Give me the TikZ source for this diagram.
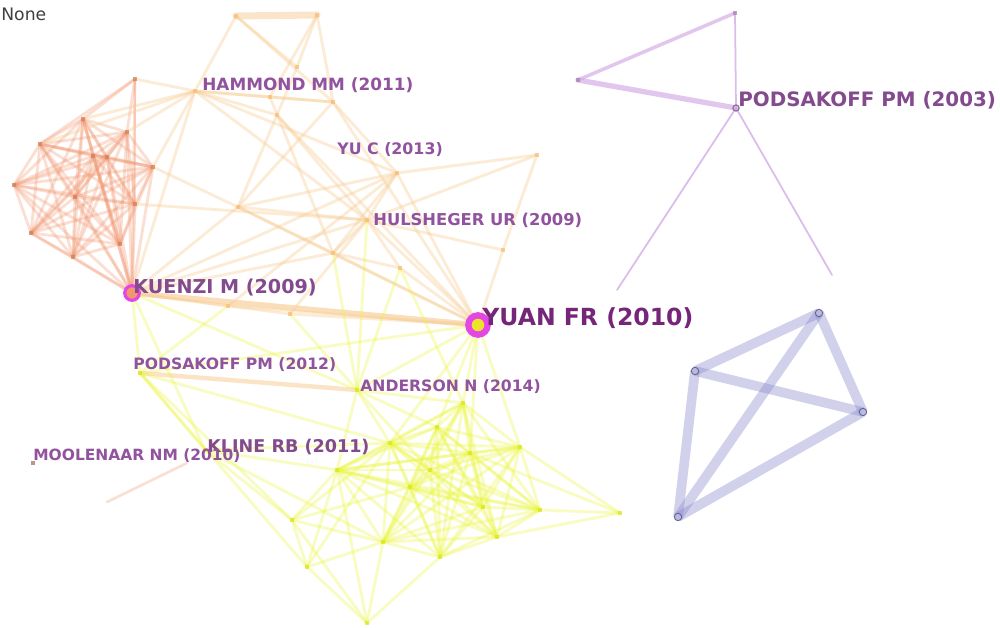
\documentclass[tikz,border=0pt]{standalone}
\usepackage{fontspec}
\setmainfont{DejaVu Sans}
\usetikzlibrary{positioning}
\definecolor{labelpurple}{RGB}{145,82,158}
\definecolor{deeppurple}{RGB}{118,38,120}
\definecolor{peach}{RGB}{242,150,110}
\definecolor{sand}{RGB}{248,205,150}
\definecolor{lemon}{RGB}{234,246,50}
\definecolor{lilac}{RGB}{206,160,226}
\definecolor{slate}{RGB}{140,140,205}
\definecolor{ringpink}{RGB}{228,70,228}

\begin{document}
\begin{tikzpicture}[x=0.02cm, y=-0.02cm,
    lbl/.style={text=labelpurple, anchor=west, inner sep=0pt, font=\bfseries\fontsize{#1}{#1}\selectfont},
    lbl/.default=9,
    web/.style={draw=#1, line width=1.6pt, opacity=0.3, line cap=round},
    dot/.style={rectangle, fill=#1, inner sep=0pt, minimum size=2.2pt, opacity=0.7},
    bluedot/.style={circle, draw=slate!70!black, fill=slate!60, line width=0.5pt, inner sep=0pt, minimum size=4.2pt}
  ]
  \fill[white] (0,0) rectangle (1000,628);
  \useasboundingbox (0,0) rectangle (1000,628);

  % node positions
  \foreach \n/\x/\y in {o1/135/79, o2/83/119, o3/40/144, o4/127/132, o5/93/156, o6/107/157,
      o7/153/167, o8/14/185, o9/75/197, o10/135/204, o11/31/233, o12/120/244, o13/73/257, kuenzi/132/293}
    \coordinate (\n) at (\x,\y);
  \foreach \n/\x/\y in {t1/236/16, t2/317/15, hammond/195/91, t3/297/67, t4/270/97, t5/277/115,
      t6/333/102, t7/397/173, t8/238/207, hulsheger/367/220, t9/537/155, t10/503/250, t11/333/253,
      t12/400/268, a1/228/306, a2/290/314, yuan/478/325}
    \coordinate (\n) at (\x,\y);
  \foreach \n/\x/\y in {pod12/140/373, anderson/357/390, kline/205/450, y1/463/403, y2/437/427,
      y3/390/443, y4/337/470, y5/520/447, y6/470/453, y7/430/470, y8/410/487, y9/540/510,
      y10/620/513, y11/292/520, y12/383/542, y13/440/557, y14/497/537, y15/307/567, y16/367/623, y17/483/507}
    \coordinate (\n) at (\x,\y);
  \foreach \n/\x/\y in {p1/578/80, p2/735/13, pod03/736/108, p3/617/290, p4/832/275,
      b1/819/313, b2/695/371, b3/863/412, b4/678/517, mool/33/463, m1/107/502, m2/187/463}
    \coordinate (\n) at (\x,\y);

  % orange cluster
  \foreach \a [count=\i] in {o2,o3,o4,o5,o6,o7,o8,o9,o10,o11,o12,o13,kuenzi}
    \foreach \b [count=\j] in {o2,o3,o4,o5,o6,o7,o8,o9,o10,o11,o12,o13,kuenzi}
      {\ifnum\j>\i \draw[web=peach] (\a) -- (\b); \fi}
  \foreach \b in {o2,o3,o4,o10,kuenzi}
    \draw[web=peach] (o1) -- (\b);

  % sand cluster
  \foreach \a/\b in {t1/t3, t2/t3, t1/t6, t2/t4, t1/hammond, t2/t6, t3/t5, t4/t6, hammond/t4,
      hammond/t6, hammond/t5, hammond/o1, hammond/o2, hammond/o4, hammond/o3, hammond/o7,
      hammond/kuenzi, hammond/t7, hammond/hulsheger, t5/t8, t5/hulsheger, t6/t8, t6/t7, t6/yuan,
      t5/yuan, t4/t11, t7/t8, t7/hulsheger, t7/yuan, t7/t11, t7/t9, t8/hulsheger, t8/t11, t8/yuan,
      t8/kuenzi, hulsheger/yuan, hulsheger/kuenzi, hulsheger/t11, hulsheger/t9, hulsheger/t12,
      t9/t10, t10/yuan, t10/hulsheger, t11/yuan, t11/kuenzi, t12/yuan, t12/t11, o7/t8,
      o10/hulsheger, a1/yuan, a1/t7, a2/hulsheger, a2/kuenzi, a1/kuenzi, a2/yuan, kuenzi/t7}
    \draw[web=sand, opacity=0.4] (\a) -- (\b);
  \draw[web=sand, line width=4pt, opacity=0.5] (t1) -- (t2);
  \draw[web=sand, line width=3.2pt, opacity=0.65] (kuenzi) -- (yuan);
  \draw[web=sand, line width=2.5pt, opacity=0.55] (pod12) -- (anderson);

  % yellow cluster
  \foreach \a [count=\i] in {y1,y2,y3,y4,y5,y6,y7,y8,y9,y12,y13,y14,y17}
    \foreach \b [count=\j] in {y1,y2,y3,y4,y5,y6,y7,y8,y9,y12,y13,y14,y17}
      {\ifnum\j>\i \draw[web=lemon] (\a) -- (\b); \fi}
  \foreach \a/\b in {yuan/anderson, yuan/y1, yuan/y2, yuan/y5, yuan/y3, yuan/pod12, yuan/y6,
      kuenzi/pod12, kuenzi/anderson, pod12/y3, pod12/kline, pod12/y11, pod12/y15, kline/y4,
      kline/y11, kline/y12, kline/y3, anderson/y3, anderson/y4, anderson/y1, anderson/y2,
      anderson/y7, hulsheger/anderson, t11/anderson, t12/y1, t12/anderson, y10/y9, y10/y5,
      y10/y14, y10/y6, y16/y11, y16/y15, y16/y12, y16/y13, y16/y4, y15/y11, y15/y12, y15/y3,
      y15/y4, y11/y4, y11/y3, y11/y12, y11/y8, kuenzi/kline, a1/pod12, a2/anderson}
    \draw[web=lemon] (\a) -- (\b);

  % purple and blue clusters
  \draw[web=lilac, line width=2pt, opacity=0.6] (p1) -- (p2);
  \draw[web=lilac, line width=3pt, opacity=0.6] (p1) -- (pod03);
  \foreach \b in {p2,p3,p4}
    \draw[web=lilac, line width=1pt, opacity=0.7] (pod03) -- (\b);
  \foreach \a/\b in {b1/b2, b2/b3, b1/b3, b1/b4, b3/b4, b2/b4}
    \draw[web=slate, line width=5.5pt, opacity=0.4, line cap=butt] (\a) -- (\b);
  \draw[web=peach!60, line width=1.5pt, opacity=0.5] (m1) -- (m2);

  % markers
  \foreach \n in {o1,o2,o3,o4,o5,o6,o7,o8,o9,o10,o11,o12,o13}
    \node[dot=peach!85!black] (\n-mark) at (\n) {};
  \foreach \n in {t1,t2,hammond,t3,t4,t5,t6,t7,t8,hulsheger,t9,t10,t11,t12,a1,a2}
    \node[dot=sand!80!orange] (\n-mark) at (\n) {};
  \foreach \n in {pod12,anderson,kline,y1,y2,y3,y4,y5,y6,y7,y8,y9,y10,y11,y12,y13,y14,y15,y16,y17}
    \node[dot=lemon!85!olive] (\n-mark) at (\n) {};
  \foreach \n in {p1,p2}
    \node[dot=lilac!80!black] (\n-mark) at (\n) {};
  \foreach \n in {b1,b2,b3,b4}
    \node[bluedot] (\n-mark) at (\n) {};
  \node[circle, draw=lilac!70!black, line width=0.7pt, inner sep=0pt, minimum size=3.5pt] (pod03-mark) at (pod03) {};
  \node[dot=peach!70!black] (mool-mark) at (mool) {};
  \node[circle, draw=ringpink, line width=1.8pt, fill=peach, inner sep=0pt, minimum size=8.3pt] (kuenzi-mark) at (kuenzi) {};
  \node[circle, draw=ringpink, line width=3.6pt, fill=lemon!85!orange, inner sep=0pt, minimum size=11pt] (yuan-mark) at (yuan) {};

  % labels
  \node[anchor=west, inner sep=0pt, text=black!75, font=\fontsize{9.8}{10}\selectfont] (legend) at (1,14) {None};
  \node[lbl=9.6] (hammond-lbl) at (202,85) {HAMMOND MM (2011)};
  \node[lbl] (yu-lbl) at (337,150) {YU C (2013)};
  \node[lbl=9.3] (hulsheger-lbl) at (373,220) {HULSHEGER UR (2009)};
  \node[lbl=10.9, text=labelpurple!90!black] (kuenzi-lbl) at (133,287) {KUENZI M (2009)};
  \node[lbl=13.4, text=deeppurple] (yuan-lbl) at (482,318) {YUAN FR (2010)};
  \node[lbl=8.9] (pod12-lbl) at (133,365) {PODSAKOFF PM (2012)};
  \node[lbl=8.9] (anderson-lbl) at (360,387) {ANDERSON N (2014)};
  \node[lbl=10, text=labelpurple!90!black] (kline-lbl) at (207,447) {KLINE RB (2011)};
  \node[lbl=8.8] (mool-lbl) at (33,456) {MOOLENAAR NM (2010)};
  \node[lbl=11.3, text=labelpurple!90!black] (pod03-lbl) at (738,100) {PODSAKOFF PM (2003)};
\end{tikzpicture}
\end{document}
